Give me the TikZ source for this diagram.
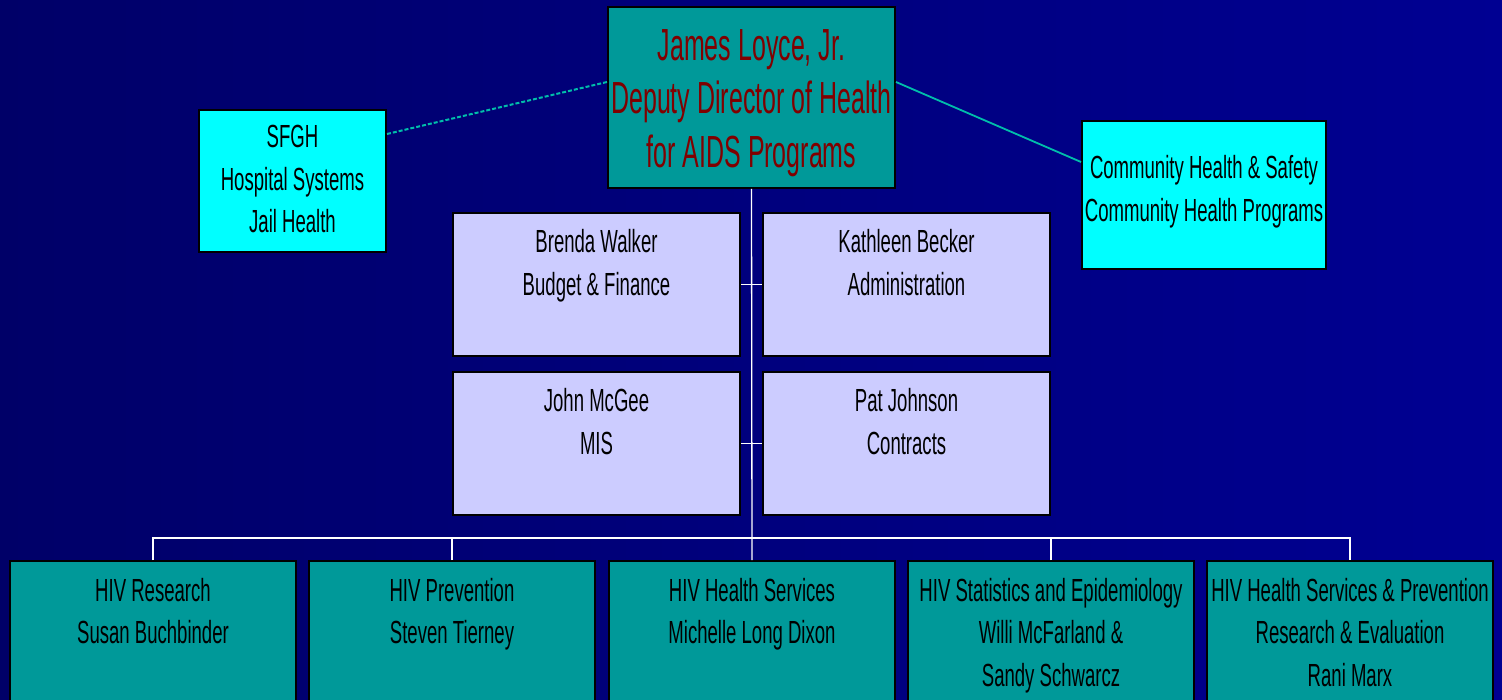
\documentclass[tikz,border=0pt]{standalone}
\usepackage{fontspec}
\setmainfont[FakeStretch=0.58]{Liberation Sans}
\newfontfamily\bigfont[FakeStretch=0.555]{Liberation Sans}
\usetikzlibrary{calc}
\definecolor{bgL}{RGB}{0,0,104}
\definecolor{bgR}{RGB}{0,0,146}
\definecolor{tealbox}{RGB}{0,153,153}
\definecolor{cyanbox}{RGB}{0,255,255}
\definecolor{lavbox}{RGB}{204,204,255}
\definecolor{darkred}{RGB}{128,0,0}
\definecolor{linkteal}{RGB}{0,190,170}
\newcommand{\boxtext}[1]{\begin{tabular}[t]{@{}c@{}}#1\end{tabular}}
\tikzset{
  orgbox/.style={draw=black, line width=2pt, inner sep=0pt},
  label/.style={anchor=base, inner sep=0pt, font=\fontsize{32}{42.5}\selectfont},
  biglabel/.style={anchor=base, inner sep=0pt, text=darkred, font=\bigfont\fontsize{45}{53.5}\selectfont},
  wire/.style={draw=white, line width=1.3pt},
}
\begin{document}
\begin{tikzpicture}[x=1pt,y=-1pt]
\useasboundingbox (0,0) rectangle (1502,700);
\clip (0,0) rectangle (1502,700);
\shade[left color=bgL, right color=bgR] (0,0) rectangle (1502,700);

% boxes
\node[orgbox, fill=tealbox, minimum width=287pt, minimum height=181pt] (top) at (751.5,97.5) {};
\node[orgbox, fill=cyanbox, minimum width=187pt, minimum height=142pt] (sfgh) at (292.5,181) {};
\node[orgbox, fill=cyanbox, minimum width=244pt, minimum height=148pt] (comm) at (1204,195) {};
\node[orgbox, fill=lavbox, minimum width=287pt, minimum height=143pt] (bw) at (596.5,284.5) {};
\node[orgbox, fill=lavbox, minimum width=287pt, minimum height=143pt] (kb) at (906.5,284.5) {};
\node[orgbox, fill=lavbox, minimum width=287pt, minimum height=143pt] (jm) at (596.5,443.5) {};
\node[orgbox, fill=lavbox, minimum width=287pt, minimum height=143pt] (pj) at (906.5,443.5) {};
\node[orgbox, fill=tealbox, minimum width=286pt, minimum height=160pt] (b1) at (153,641) {};
\node[orgbox, fill=tealbox, minimum width=286pt, minimum height=160pt] (b2) at (452,641) {};
\node[orgbox, fill=tealbox, minimum width=286pt, minimum height=160pt] (b3) at (752,641) {};
\node[orgbox, fill=tealbox, minimum width=286pt, minimum height=160pt] (b4) at (1051,641) {};
\node[orgbox, fill=tealbox, minimum width=286pt, minimum height=160pt] (b5) at (1350,641) {};

% texts
\node[biglabel] (ttop) at (751.5,60.5) {\boxtext{James Loyce, Jr.\\Deputy Director of Health\\for AIDS Programs}};
\node[label] (tsfgh) at (292.5,148) {\boxtext{SFGH\\Hospital Systems\\Jail Health}};
\node[label] (tcomm) at (1204,179) {\boxtext{Community Health \& Safety\\Community Health Programs}};
\node[label] (tbw) at (596.5,253) {\boxtext{Brenda Walker\\Budget \& Finance}};
\node[label] (tkb) at (906.5,253) {\boxtext{Kathleen Becker\\Administration}};
\node[label] (tjm) at (596.5,412) {\boxtext{John McGee\\MIS}};
\node[label] (tpj) at (906.5,412) {\boxtext{Pat Johnson\\Contracts}};
\node[label] (tb1) at (153,601) {\boxtext{HIV Research\\Susan Buchbinder}};
\node[label] (tb2) at (452,601) {\boxtext{HIV Prevention\\Steven Tierney}};
\node[label] (tb3) at (752,601) {\boxtext{HIV Health Services\\Michelle Long Dixon}};
\node[label] (tb4) at (1051,601) {\boxtext{HIV Statistics and Epidemiology\\Willi McFarland \&\\Sandy Schwarcz}};
\node[label] (tb5) at (1350,601) {\boxtext{HIV Health Services \& Prevention\\Research \& Evaluation\\Rani Marx}};

% connectors
\coordinate (bus) at (751,538);
\draw[wire] (top.south) -- (b3.north);
\draw[wire] (b1.north) -- (b1.north |- bus) -- (b5.north |- bus) -- (b5.north);
\draw[wire] (b2.north) -- (b2.north |- bus);
\draw[wire] (b4.north) -- (b4.north |- bus);
\draw[wire] (bw.east) -- (kb.west);
\draw[wire] (jm.east) -- (pj.west);
\draw[draw=linkteal, line width=2pt, dash pattern=on 4pt off 2pt] ([yshift=-25pt]sfgh.north east) -- ([yshift=-76pt]top.north west);
\draw[draw=linkteal, line width=1.8pt] ([yshift=-76pt]top.north east) -- ([yshift=-42pt]comm.north west);
\end{tikzpicture}
\end{document}
